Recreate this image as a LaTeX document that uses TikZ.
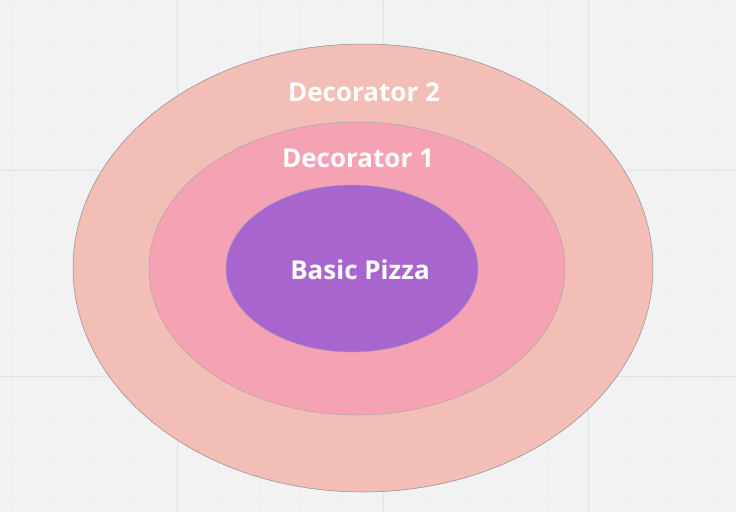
\documentclass[tikz,border=0pt]{standalone}
\usepackage{fontspec}
\setmainfont{Open Sans}
\usetikzlibrary{shapes.geometric}
\definecolor{bgcol}{HTML}{F2F2F2}
\definecolor{gridcol}{HTML}{E2E2E2}
\definecolor{outercol}{HTML}{F2BCB2}
\definecolor{middlecol}{HTML}{F7A1B5}
\definecolor{innercol}{HTML}{A865CE}

\begin{document}
\begin{tikzpicture}[
    x=1pt, y=-1pt,
    layer/.style={ellipse, inner sep=0pt, line width=0.5pt},
    label text/.style={text=white, font=\fontsize{26}{30}\selectfont\bfseries}
]
    % Canvas and grid:
    \fill[bgcol] (0,0) rectangle (736,512);
    \useasboundingbox (0,0) rectangle (736,512);
    \foreach \x in {12,53,94,135,218,259,300,341,424,465,506,547,630,671,712}
        \draw[gridcol!60, line width=0.4pt] (\x,0) -- (\x,512);
    \foreach \y in {6,47,88,129,211,252,293,334,417,458,499}
        \draw[gridcol!60, line width=0.4pt] (0,\y) -- (736,\y);
    \foreach \x in {177,383,588}
        \draw[gridcol, line width=0.8pt] (\x,0) -- (\x,512);
    \foreach \y in {170,376}
        \draw[gridcol, line width=0.8pt] (0,\y) -- (736,\y);

    % Nested layers:
    \node[layer, draw=black!45, fill=outercol, fill opacity=0.95,
        minimum width=580pt, minimum height=448pt] (dec2) at (363,268) {};
    \node[layer, draw=black!35, fill=middlecol, fill opacity=0.95,
        minimum width=416pt, minimum height=293pt] (dec1) at (357,268.5) {};
    \node[layer, draw=blue!30!black!40, fill=innercol,
        minimum width=252pt, minimum height=167pt] (pizza) at (352,268.5) {};

    % Labels:
    \node[label text] (dec2text) at (364,92) {Decorator 2};
    \node[label text] (dec1text) at (358,158) {Decorator 1};
    \node[label text] (pizzatext) at (360,270) {Basic Pizza};
\end{tikzpicture}
\end{document}
